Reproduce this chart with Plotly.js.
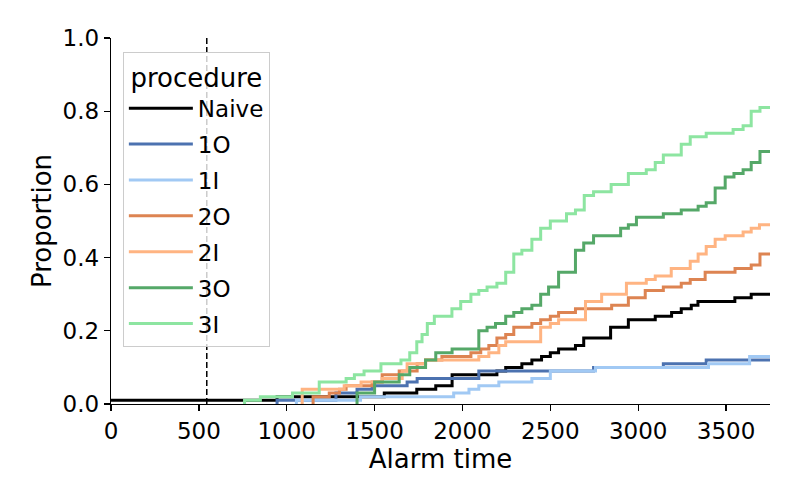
<!DOCTYPE html>
<html>
<head>
<meta charset="utf-8">
<script src="https://cdn.plot.ly/plotly-3.0.1.min.js"></script>
<style>html,body{margin:0;padding:0;background:#fff;}#chart{width:800px;height:500px;}</style>
</head>
<body>
<div id="chart"></div>
<script>
const names = ["Naive", "1O", "1I", "2O", "2I", "3O", "3I"];
const colors = ["#000000", "#4c72b0", "#a1c9f4", "#dd8452", "#ffb482", "#55a868", "#8de5a1"];

const naiveX = [0, 945, 1555, 1740, 1848, 1941, 2196, 2246, 2338, 2395, 2450, 2500, 2547, 2643, 2690, 2843, 2944, 3097, 3190, 3245, 3302, 3340, 3550, 3643, 3750];
const naiveY = [0.01, 0.02, 0.03, 0.04, 0.05, 0.08, 0.09, 0.10, 0.11, 0.12, 0.13, 0.14, 0.15, 0.16, 0.18, 0.21, 0.23, 0.24, 0.25, 0.26, 0.27, 0.28, 0.29, 0.30, 0.30];

const o1X = [945, 945, 1280, 1400, 1486, 1685, 1742, 2093, 2746, 3143, 3387, 3750];
const o1Y = [0, 0.01, 0.03, 0.04, 0.05, 0.06, 0.07, 0.09, 0.10, 0.11, 0.12, 0.12];

const i1X = [1055, 1055, 1420, 1950, 2037, 2093, 2207, 2395, 2500, 2757, 3400, 3634, 3750];
const i1Y = [0, 0.01, 0.02, 0.03, 0.04, 0.05, 0.06, 0.07, 0.09, 0.10, 0.11, 0.13, 0.13];

const o2X = [1150, 1150, 1242, 1300, 1338, 1486, 1543, 1640, 1742, 1790, 1883, 2048, 2104, 2150, 2196, 2246, 2292, 2395, 2445, 2500, 2547, 2643, 2849, 2944, 3040, 3143, 3245, 3296, 3381, 3551, 3643, 3693, 3750];
const o2Y = [0, 0.02, 0.03, 0.04, 0.05, 0.06, 0.08, 0.09, 0.11, 0.12, 0.13, 0.14, 0.15, 0.16, 0.18, 0.19, 0.21, 0.22, 0.23, 0.24, 0.25, 0.26, 0.27, 0.29, 0.31, 0.32, 0.33, 0.34, 0.36, 0.37, 0.38, 0.41, 0.41];

const i2X = [1088, 1088, 1327, 1423, 1543, 1657, 1685, 1790, 2093, 2150, 2207, 2246, 2445, 2500, 2547, 2700, 2792, 2933, 3046, 3097, 3188, 3296, 3341, 3387, 3438, 3495, 3597, 3643, 3690, 3750];
const i2Y = [0, 0.04, 0.05, 0.06, 0.07, 0.09, 0.11, 0.12, 0.13, 0.14, 0.16, 0.17, 0.21, 0.22, 0.23, 0.28, 0.30, 0.33, 0.34, 0.35, 0.37, 0.39, 0.41, 0.43, 0.45, 0.46, 0.47, 0.48, 0.49, 0.49];

const o3X = [1400, 1400, 1500, 1640, 1700, 1790, 1848, 1941, 2093, 2140, 2188, 2246, 2292, 2338, 2395, 2445, 2490, 2547, 2643, 2690, 2746, 2900, 2944, 2990, 3143, 3245, 3341, 3387, 3438, 3495, 3545, 3597, 3643, 3693, 3750];
const o3Y = [0, 0.03, 0.06, 0.08, 0.10, 0.12, 0.14, 0.15, 0.20, 0.21, 0.22, 0.24, 0.25, 0.26, 0.27, 0.30, 0.32, 0.36, 0.42, 0.44, 0.46, 0.48, 0.49, 0.51, 0.52, 0.53, 0.54, 0.55, 0.59, 0.62, 0.63, 0.64, 0.66, 0.69, 0.69];

const i3X = [760, 760, 850, 1033, 1185, 1338, 1385, 1440, 1536, 1650, 1700, 1740, 1770, 1800, 1840, 1940, 1990, 2048, 2093, 2140, 2196, 2246, 2292, 2338, 2395, 2445, 2500, 2592, 2643, 2693, 2746, 2846, 2944, 3046, 3097, 3143, 3245, 3296, 3387, 3540, 3597, 3643, 3693, 3750];
const i3Y = [0, 0.01, 0.02, 0.03, 0.06, 0.07, 0.08, 0.09, 0.11, 0.12, 0.14, 0.17, 0.19, 0.22, 0.24, 0.26, 0.28, 0.30, 0.31, 0.32, 0.33, 0.36, 0.41, 0.42, 0.45, 0.48, 0.50, 0.52, 0.53, 0.57, 0.58, 0.60, 0.63, 0.64, 0.66, 0.68, 0.71, 0.73, 0.74, 0.75, 0.76, 0.80, 0.81, 0.81];

const xTicks = [0, 500, 1000, 1500, 2000, 2500, 3000, 3500];
const yTicks = [0.0, 0.2, 0.4, 0.6, 0.8, 1.0];
const cutoffX = 545;

const xs = [naiveX, o1X, i1X, o2X, i2X, o3X, i3X];
const ys = [naiveY, o1Y, i1Y, o2Y, i2Y, o3Y, i3Y];

const FONT = "DejaVu Sans, Liberation Sans, sans-serif";

const traces = names.map((n, i) => ({
  type: "scatter",
  mode: "lines",
  name: n,
  x: xs[i],
  y: ys[i],
  legendgroup: n,
  line: {color: colors[i], width: 3, shape: "hv"},
  cliponaxis: true
}));

const layout = {
  width: 800, height: 500,
  margin: {l: 111, r: 30, t: 38, b: 96},
  paper_bgcolor: "#ffffff",
  plot_bgcolor: "#ffffff",
  font: {family: FONT, color: "#000000", size: 20},
  showlegend: true,
  xaxis: {
    range: [0, 3750],
    tickvals: xTicks,
    ticktext: xTicks.map(String),
    showgrid: false, zeroline: false,
    showline: true, linecolor: "#000000", linewidth: 1.3,
    ticks: "outside", ticklen: 6, tickwidth: 1.3, tickcolor: "#000000",
    tickfont: {family: FONT, size: 23, color: "#000000"},
    title: {text: "Alarm time", font: {family: FONT, size: 26, color: "#000000"}, standoff: 2}
  },
  yaxis: {
    range: [0, 1],
    tickvals: yTicks,
    ticktext: yTicks.map(v => v.toFixed(1)),
    showgrid: false, zeroline: false,
    showline: true, linecolor: "#000000", linewidth: 1.3,
    ticks: "outside", ticklen: 6, tickwidth: 1.3, tickcolor: "#000000",
    tickfont: {family: FONT, size: 23, color: "#000000"},
    title: {text: "Proportion", font: {family: FONT, size: 26, color: "#000000"}, standoff: 3}
  },
  shapes: [{
    type: "line", xref: "x", yref: "paper",
    x0: cutoffX, x1: cutoffX, y0: 0, y1: 1,
    line: {color: "#000000", width: 1.5, dash: "6px,3px"},
    layer: "above"
  }],
  legend: {
    x: 0.018, y: 0.962, xanchor: "left", yanchor: "top",
    bgcolor: "rgba(255,255,255,0.8)",
    bordercolor: "#cccccc", borderwidth: 1,
    font: {family: FONT, size: 23, color: "#000000"},
    title: {text: "procedure", side: "top center", font: {family: FONT, size: 26, color: "#000000"}},
    traceorder: "grouped",
    tracegroupgap: 3,
    itemwidth: 64,
    entrywidth: 150
  }
};

Plotly.newPlot("chart", traces, layout, {displayModeBar: false, staticPlot: true});
</script>
</body>
</html>
